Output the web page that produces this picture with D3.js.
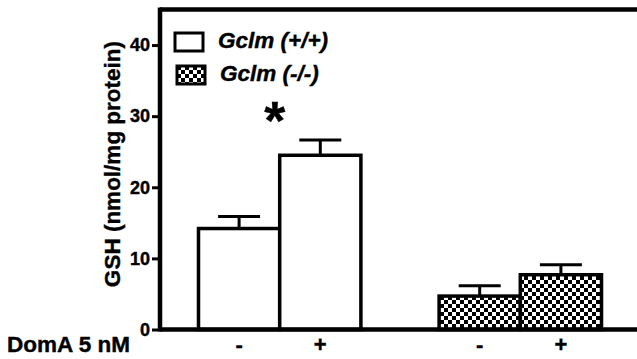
<!DOCTYPE html>
<html>
<head>
<meta charset="utf-8">
<script src="https://cdn.jsdelivr.net/npm/d3@7"></script>
<style>
  body { margin: 0; background: #fff; }
  text { font-family: "Liberation Sans", Arial, sans-serif; font-weight: bold; stroke: #000; stroke-width: 0.4px; }
</style>
</head>
<body>
<div id="chart"></div>
<script>
// Data
const genotypes = ['Gclm (+/+)', 'Gclm (-/-)'];
const doses = ['-', '+'];
const gshMean = [[14.2, 24.5], [4.7, 7.7]];
const gshSem = [[1.7, 2.15], [1.45, 1.4]];
const yTicks = [0, 10, 20, 30, 40];

const W = 637, H = 359;
const margin = { top: 9.5, left: 160, bottom: 29.5 };

const svg = d3.select('#chart')
  .append('svg')
  .attr('width', W)
  .attr('height', H);

// checker pattern for the knockout bars
const defs = svg.append('defs');
const pat = defs.append('pattern')
  .attr('id', 'checker')
  .attr('width', 8).attr('height', 8)
  .attr('patternUnits', 'userSpaceOnUse');
pat.append('rect').attr('width', 8).attr('height', 8).attr('fill', '#fff');
pat.append('rect').attr('width', 4).attr('height', 4).attr('fill', '#000');
pat.append('rect').attr('x', 4).attr('y', 4).attr('width', 4).attr('height', 4).attr('fill', '#000');

// scales
const x0 = d3.scaleBand()
  .domain(genotypes)
  .range([margin.left, 640])
  .paddingInner(0.325)
  .paddingOuter(0.16);
const x1 = d3.scaleBand()
  .domain(doses)
  .range([0, x0.bandwidth()]);
const y = d3.scaleLinear()
  .domain([0, 45])
  .range([H - margin.bottom, margin.top]);

const rows = [];
genotypes.forEach((g, i) => doses.forEach((d, j) => {
  rows.push({ g: g, d: d, v: gshMean[i][j], e: gshSem[i][j], ko: i === 1 });
}));

// error bars (above only)
const err = svg.append('g')
  .attr('stroke', '#000')
  .attr('stroke-width', 3);
rows.forEach(r => {
  const cx = x0(r.g) + x1(r.d) + x1.bandwidth() / 2;
  err.append('line')
    .attr('x1', cx).attr('x2', cx)
    .attr('y1', y(r.v)).attr('y2', y(r.v + r.e));
  err.append('line')
    .attr('x1', cx - 21).attr('x2', cx + 21)
    .attr('y1', y(r.v + r.e)).attr('y2', y(r.v + r.e));
});

// bars
svg.selectAll('.bar')
  .data(rows)
  .enter()
  .append('rect')
  .attr('class', 'bar')
  .attr('x', d => x0(d.g) + x1(d.d))
  .attr('y', d => y(d.v))
  .attr('width', x1.bandwidth())
  .attr('height', d => y(0) - y(d.v))
  .attr('fill', d => d.ko ? 'url(#checker)' : '#fff')
  .attr('stroke', '#000')
  .attr('stroke-width', 3.5);

// frame: bottom, top, left
svg.append('line')
  .attr('x1', margin.left).attr('x2', W)
  .attr('y1', y(0)).attr('y2', y(0))
  .attr('stroke', '#000').attr('stroke-width', 4.5);
svg.append('line')
  .attr('x1', margin.left).attr('x2', W)
  .attr('y1', y(45)).attr('y2', y(45))
  .attr('stroke', '#000').attr('stroke-width', 4.5);

// Y axis
const yAxis = svg.append('g')
  .attr('transform', 'translate(' + margin.left + ',0)')
  .call(d3.axisLeft(y).tickValues(yTicks).tickSize(8).tickPadding(2))
  .call(g => g.select('.domain').remove());
yAxis.selectAll('.tick line').attr('stroke-width', 3);
yAxis.selectAll('.tick text')
  .attr('font-size', 18)
  .attr('font-family', '"Liberation Sans", Arial, sans-serif')
  .attr('font-weight', 'bold')
  .attr('fill', '#000');
svg.append('line')
  .attr('x1', margin.left).attr('x2', margin.left)
  .attr('y1', y(45) - 2).attr('y2', y(0) + 2)
  .attr('stroke', '#000').attr('stroke-width', 4.5);

// y label
svg.append('text')
  .attr('transform', 'translate(120,' + 164 + ') rotate(-90)')
  .attr('text-anchor', 'middle')
  .attr('font-size', 22.5)
  .text('GSH (nmol/mg protein)');

// x labels
svg.selectAll('.dose')
  .data(rows)
  .enter()
  .append('text')
  .attr('x', d => x0(d.g) + x1(d.d) + x1.bandwidth() / 2)
  .attr('y', 352)
  .attr('text-anchor', 'middle')
  .attr('font-size', 22)
  .text(d => d.d);

svg.append('text')
  .attr('x', 7)
  .attr('y', 352)
  .attr('font-size', 22.5)
  .text('DomA 5 nM');

// significance star
svg.append('text')
  .attr('x', x0(genotypes[0]) + x1('+') - 5)
  .attr('y', 139)
  .attr('text-anchor', 'middle')
  .attr('font-size', 54)
  .text('*');

// legend
const legend = svg.selectAll('.legend')
  .data(genotypes)
  .enter()
  .append('g')
  .attr('class', 'legend')
  .attr('transform', (d, i) => 'translate(' + (175 + i * 2) + ',' + (33 + i * 33) + ')');
legend.append('rect')
  .attr('width', 28)
  .attr('height', 18)
  .attr('fill', (d, i) => i ? 'url(#checker)' : '#fff')
  .attr('stroke', '#000')
  .attr('stroke-width', 3);
legend.append('text')
  .attr('x', 43)
  .attr('y', 15)
  .attr('font-size', 22.5)
  .attr('font-style', 'italic')
  .text(d => d);
</script>
</body>
</html>
